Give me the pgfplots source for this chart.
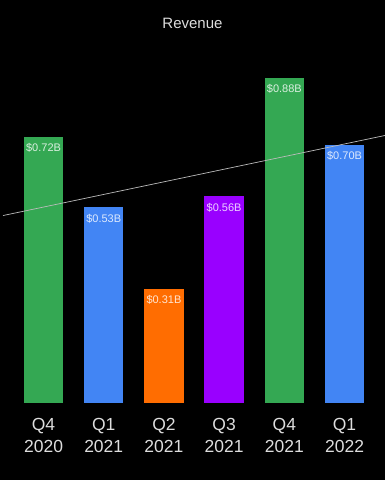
\documentclass[border=0pt]{standalone}
\usepackage{fontspec}
\setmainfont{Liberation Sans}
\usepackage{pgfplots}
\pgfplotsset{compat=1.18}
\definecolor{ggreen}{HTML}{34A853}
\definecolor{gblue}{HTML}{4285F4}
\definecolor{gorange}{HTML}{FF6D01}
\definecolor{gpurple}{HTML}{9900FF}
\definecolor{txt}{HTML}{DDDDDD}
\definecolor{trend}{HTML}{BBBBBB}
\pgfplotsset{
  vbar/.style={ybar, bar width=39.5pt, bar shift=0pt, draw=none, fill=#1,
    point meta=explicit symbolic, nodes near coords,
    nodes near coords style={anchor=north, yshift=-3pt, text=white, text opacity=0.82, font=\fontsize{11}{12}\selectfont}},
}
\begin{document}
\begin{tikzpicture}
\fill[black] (0,0) rectangle (385pt,480pt);
\begin{axis}[
  at={(0pt,77pt)}, anchor=south west,
  scale only axis, width=385pt, height=369pt,
  xmin=-0.723, xmax=5.672, ymin=0, ymax=1,
  axis line style={draw=none}, major tick length=0pt,
  ytick=\empty,
  xtick={0,1,2,3,4,5},
  xticklabels={{Q4\\2020},{Q1\\2021},{Q2\\2021},{Q3\\2021},{Q4\\2021},{Q1\\2022}},
  xticklabel style={align=center, text=txt, font=\fontsize{17.5}{22}\selectfont, yshift=-12pt},
  clip=false,
]
\addplot[vbar=ggreen] coordinates {(0,0.72) [\$0.72B]};
\addplot[vbar=gblue] coordinates {(1,0.53) [\$0.53B]};
\addplot[vbar=gorange] coordinates {(2,0.31) [\$0.31B]};
\addplot[vbar=gpurple] coordinates {(3,0.56) [\$0.56B]};
\addplot[vbar=ggreen] coordinates {(4,0.88) [\$0.88B]};
\addplot[vbar=gblue] coordinates {(5,0.70) [\$0.70B]};
\addplot[sharp plot, trend, line width=0.7pt, mark=none] coordinates {(-0.673,0.508) (5.672,0.725)};
\node[text=txt, font=\fontsize{15}{18}\selectfont] at (rel axis cs:0.5,1) [yshift=11pt] {Revenue};
\end{axis}
\pgfresetboundingbox
\useasboundingbox (0,0) rectangle (385pt,480pt);
\end{tikzpicture}
\end{document}
